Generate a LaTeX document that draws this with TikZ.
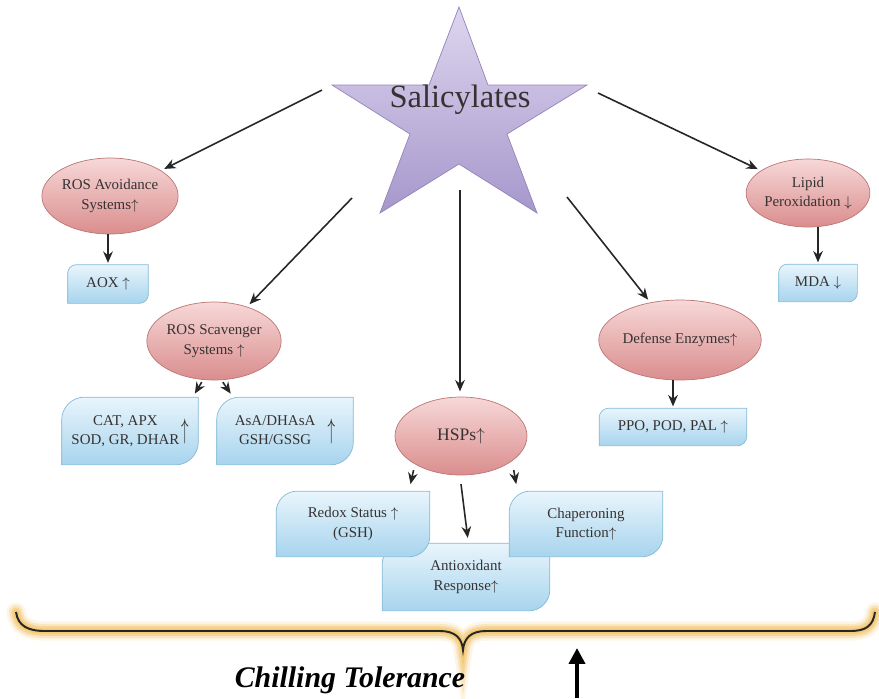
\documentclass[tikz,border=0pt]{standalone}
\usepackage{fontspec}
\usepackage{graphicx}
\setmainfont{Liberation Serif}
\usetikzlibrary{shapes.geometric,arrows.meta,backgrounds}
\definecolor{txt}{HTML}{363232}
\definecolor{elltop}{HTML}{F7D8D8}
\definecolor{ellbot}{HTML}{DA8D8D}
\definecolor{elledge}{HTML}{BD7575}
\definecolor{boxtop}{HTML}{E9F5FC}
\definecolor{boxbot}{HTML}{A7D4ED}
\definecolor{boxedge}{HTML}{85BAD8}
\definecolor{startop}{HTML}{DED6EF}
\definecolor{starbot}{HTML}{A697CB}
\definecolor{staredge}{HTML}{9484B8}
\definecolor{glow}{HTML}{EFBD58}
\newcommand\leafbox[2]{%
  \draw[draw=boxedge, top color=boxtop, bottom color=boxbot]
    (#1.south west) -- ([yshift=-#2]#1.north west)
    arc[start angle=180, end angle=90, radius=#2]
    -- (#1.north east) -- ([yshift=#2]#1.south east)
    arc[start angle=0, end angle=-90, radius=#2] -- cycle;}
\newcommand\tallup{\raisebox{-0.25em}{\scalebox{1}[2]{$\uparrow$}}}
\newcommand\chillbrace{(16,612) .. controls (18,626) and (28,631) .. (45,631) -- (440,631)
  .. controls (455,631) and (462,638) .. (463,650) .. controls (464,638) and (471,631) .. (486,631)
  -- (850,631) .. controls (866,631) and (873,626) .. (875,612)}
\begin{document}
\begin{tikzpicture}[x=0.02cm,y=-0.02cm,
    oval/.style={ellipse, draw=elledge, top color=elltop, bottom color=ellbot, text=txt,
      align=center, inner sep=0pt, font=\fontsize{8.5}{11}\selectfont},
    leaf/.style={text=txt, align=center, inner sep=0pt, font=\fontsize{8.5}{11}\selectfont},
    arr/.style={-{Stealth[length=6.5pt,width=5.5pt]}, line width=0.9pt, black!85}]
    \useasboundingbox (0,0) rectangle (879,698);
    \draw[draw=staredge, top color=startop, bottom color=starbot]
        (459,7) -- (488,85) -- (587,85) -- (507,134) -- (537,213) -- (459,164)
        -- (380,213) -- (410,134) -- (332,85) -- (429,85) -- cycle;
    \node[text=txt, font=\fontsize{18.5}{20}\selectfont] (sal) at (460,100) {Salicylates};
    \coordinate (s1) at (322,90);
    \coordinate (s2) at (352,198);
    \coordinate (s3) at (460,190);
    \coordinate (s4) at (567,197);
    \coordinate (s5) at (598,93);
    \node[oval, minimum width=2.6cm, minimum height=1.52cm] (avoid) at (110,196) {ROS Avoidance\\Systems$\uparrow$};
    \node[leaf, minimum width=1.6cm, minimum height=0.76cm] (aox) at (108,284) {AOX $\uparrow$};
    \node[oval, minimum width=2.64cm, minimum height=1.56cm] (scav) at (214,341) {ROS Scavenger\\Systems $\uparrow$};
    \node[leaf, minimum width=2.72cm, minimum height=1.34cm] (cat) at (130,431)
        {\begin{tabular}{@{}c@{}}CAT, APX\\SOD, GR, DHAR\end{tabular}\hspace{1pt}\tallup};
    \node[leaf, minimum width=2.72cm, minimum height=1.34cm] (asa) at (285,431)
        {\begin{tabular}{@{}c@{}}AsA/DHAsA\\GSH/GSSG\end{tabular}\hspace{7pt}\tallup};
    \node[oval, minimum width=2.64cm, minimum height=1.56cm, font=\fontsize{10}{12}\selectfont] (hsp) at (461,436) {HSPs$\uparrow$};
    \node[leaf, minimum width=3.34cm, minimum height=1.34cm] (anti) at (466,577) {Antioxidant\\Response$\uparrow$};
    \node[leaf, minimum width=3.06cm, minimum height=1.3cm] (redox) at (353,524) {Redox Status $\uparrow$\\(GSH)};
    \node[leaf, minimum width=3.06cm, minimum height=1.3cm] (chap) at (586,524) {Chaperoning\\Function$\uparrow$};
    \node[oval, minimum width=2.56cm, minimum height=1.6cm] (def) at (680,340) {Defense Enzymes$\uparrow$};
    \node[leaf, minimum width=2.94cm, minimum height=0.74cm] (ppo) at (673,427) {PPO, POD, PAL $\uparrow$};
    \node[oval, minimum width=2.26cm, minimum height=1.36cm] (lipid) at (808,193) {Lipid\\Peroxidation $\downarrow$};
    \node[leaf, minimum width=1.56cm, minimum height=0.74cm] (mda) at (818,283) {MDA $\downarrow$};
    \begin{scope}[on background layer]
        \leafbox{aox}{5pt}
        \leafbox{cat}{13pt}
        \leafbox{asa}{13pt}
        \leafbox{anti}{12pt}
        \leafbox{redox}{12pt}
        \leafbox{chap}{12pt}
        \leafbox{ppo}{5.5pt}
        \leafbox{mda}{5pt}
    \end{scope}
    \draw[arr, shorten >=2pt] (s1) -- (avoid);
    \draw[arr, shorten >=2pt] (s2) -- (scav);
    \draw[arr, shorten >=3pt] (s3) -- (s3 |- hsp.north);
    \draw[arr, shorten >=2pt] (s4) -- (def);
    \draw[arr, shorten >=2pt] (s5) -- (lipid);
    \draw[arr, shorten >=1pt] (avoid.south -| aox.north) -- (aox.north);
    \draw[arr] ([xshift=-7pt,yshift=-1pt]scav.south) -- ([xshift=-2pt,yshift=2pt]cat.north east);
    \draw[arr] ([xshift=5pt,yshift=-1pt]scav.south) -- ([xshift=8pt,yshift=2pt]asa.north west);
    \draw[arr] ([xshift=-27pt,yshift=3pt]hsp.south) -- ([xshift=-11pt,yshift=4pt]redox.north east);
    \draw[arr] ([yshift=-5pt]hsp.south) -- ([xshift=1pt,yshift=3pt]anti.north);
    \draw[arr] ([xshift=30pt,yshift=3pt]hsp.south) -- ([xshift=4pt,yshift=4pt]chap.north west);
    \draw[arr, shorten >=1pt] (def.south -| ppo.north) -- (ppo.north);
    \draw[arr, shorten >=1pt] (lipid.south -| mda.north) -- (mda.north);
    \foreach \w/\o in {11pt/0.15, 8pt/0.25, 5.5pt/0.4, 3pt/0.5}
        \draw[glow, line width=\w, opacity=\o, line cap=round] \chillbrace;
    \draw[black!85, line width=1.1pt] \chillbrace;
    \node[font=\fontsize{17}{20}\selectfont\bfseries\itshape] (chill) at (350,680) {Chilling Tolerance};
    \coordinate (up0) at (577,698);
    \coordinate (up1) at (577,648);
    \draw[line width=2.2pt, -{Triangle[length=9pt,width=9pt]}] (up0) -- (up1);
\end{tikzpicture}
\end{document}
